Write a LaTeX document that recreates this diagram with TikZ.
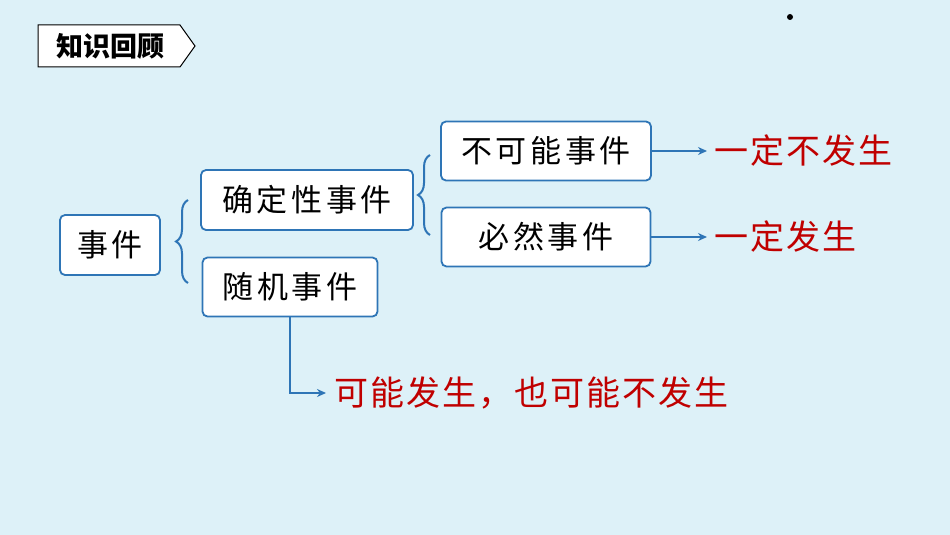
\documentclass[tikz,border=0pt]{standalone}
\usepackage{fontspec}
\newfontfamily\cjk{Noto Sans CJK SC}
\newfontfamily\cjkbox[LetterSpace=12]{Noto Sans CJK SC}
\newfontfamily\cjkred[LetterSpace=6]{Noto Sans CJK SC}
\usetikzlibrary{decorations.pathreplacing,arrows.meta}
\definecolor{bg}{HTML}{DDF1F8}
\definecolor{bl}{HTML}{2E75B6}
\definecolor{rd}{HTML}{C00000}
\begin{document}
\begin{tikzpicture}[x=1pt,y=-1pt,
  box/.style={draw=bl,line width=1.8pt,rounded corners=5pt,fill=white,inner sep=0pt,font=\cjkbox\fontsize{31}{34}\selectfont},
  red/.style={text=rd,font=\cjkred\fontsize{34}{36}\selectfont,anchor=west,inner sep=0pt},
  br/.style={draw=bl,line width=2pt,decorate,decoration={brace,amplitude=12pt}},
  ar/.style={draw=bl,line width=2pt,-{Stealth[length=9pt,width=8pt]}}]
\fill[bg] (0,0) rectangle (950,535);
\useasboundingbox (0,0) rectangle (950,535);
\draw[fill=white,line width=1pt] (38,25) -- (180,25) -- (195,46) -- (180,67) -- (38,67) -- cycle;
\node[font=\cjk\bfseries\fontsize{27}{29}\selectfont] (tag) at (110,46) {知识回顾};
\fill (790,17) circle (3pt);
\node[box,minimum width=100pt,minimum height=60pt] (e) at (110,245) {事件};
\node[box,minimum width=212pt,minimum height=60pt] (q) at (307,200) {确定性事件};
\node[box,minimum width=175pt,minimum height=59pt] (s) at (290,287) {随机事件};
\node[box,minimum width=210pt,minimum height=59pt] (b) at (546,151) {不可能事件};
\node[box,minimum width=209pt,minimum height=59pt] (m) at (546,237) {必然事件};
\draw[br] (188,283) -- (188,200);
\draw[br] (430,235) -- (430,155);
\coordinate (ba) at (707,151);
\coordinate (ma) at (707,237);
\coordinate (sa) at (326,393);
\draw[ar] (b.east) -- (ba);
\draw[ar] (m.east) -- (ma);
\draw[ar] (s.south) |- (sa);
\node[red] (t1) at (714,151) {一定不发生};
\node[red] (t2) at (714,237) {一定发生};
\node[red] (t3) at (334,393) {可能发生，也可能不发生};
\end{tikzpicture}
\end{document}
